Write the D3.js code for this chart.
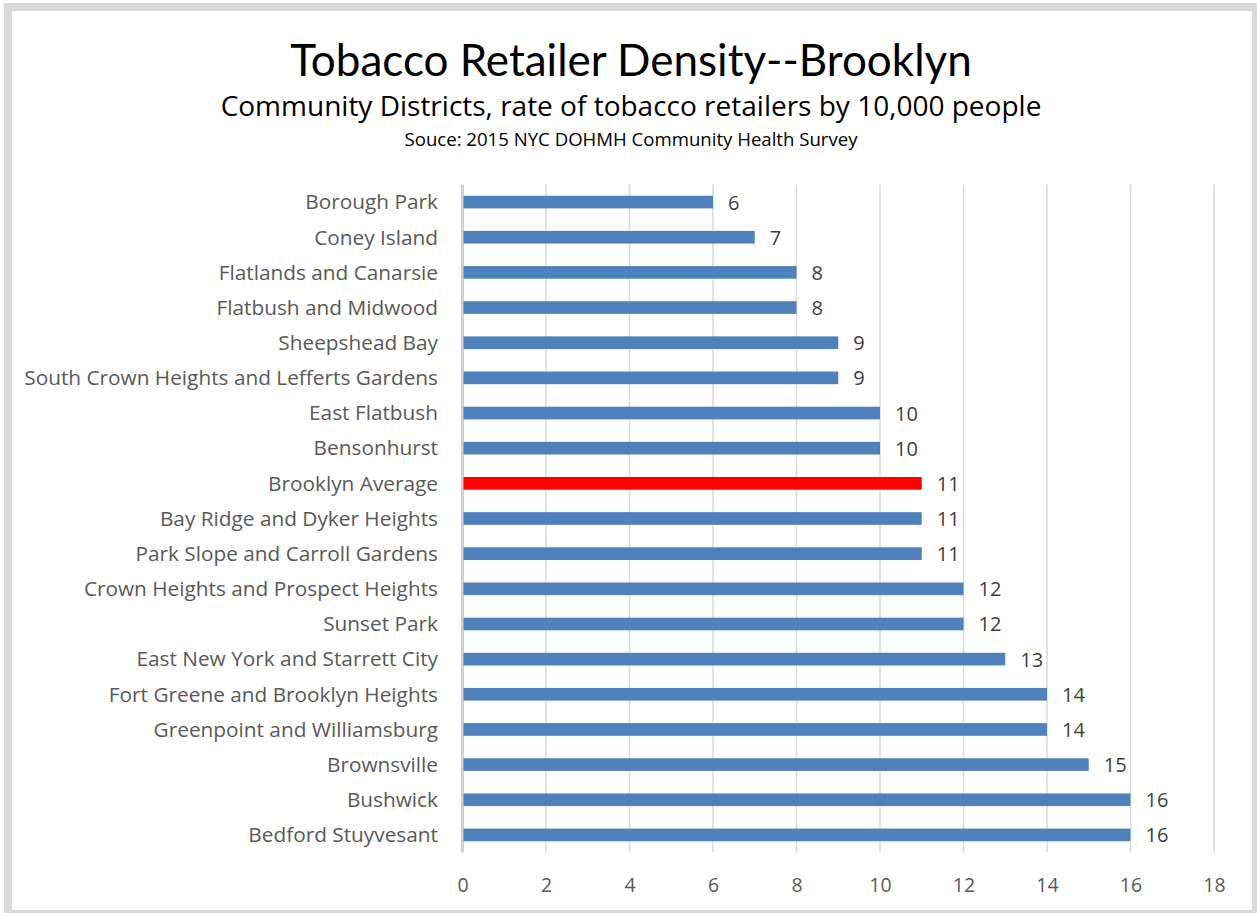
<!DOCTYPE html>
<html>
<head>
<meta charset="utf-8">
<script src="https://cdn.jsdelivr.net/npm/d3@7"></script>
<style>
  html, body { margin: 0; padding: 0; background: #ffffff; }
  svg { display: block; }
</style>
</head>
<body>
<svg id="chart" width="1257" height="913"></svg>
<script>
// Community districts, in display order (top to bottom)
const districts = [
  "Borough Park",
  "Coney Island",
  "Flatlands and Canarsie",
  "Flatbush and Midwood",
  "Sheepshead Bay",
  "South Crown Heights and Lefferts Gardens",
  "East Flatbush",
  "Bensonhurst",
  "Brooklyn Average",
  "Bay Ridge and Dyker Heights",
  "Park Slope and Carroll Gardens",
  "Crown Heights and Prospect Heights",
  "Sunset Park",
  "East New York and Starrett City",
  "Fort Greene and Brooklyn Heights",
  "Greenpoint and Williamsburg",
  "Brownsville",
  "Bushwick",
  "Bedford Stuyvesant"
];

// Tobacco retailers per 10,000 people
const rates = [6, 7, 8, 8, 9, 9, 10, 10, 11, 11, 11, 12, 12, 13, 14, 14, 15, 16, 16];

// Value axis ticks
const xTicks = [0, 2, 4, 6, 8, 10, 12, 14, 16, 18];

const highlight = "Brooklyn Average";

const W = 1257, H = 913;
const svg = d3.select("#chart");
const TITLE_FONT = "Lato, 'Open Sans', sans-serif";
const FONT = "'Open Sans', 'Noto Sans', sans-serif";

// Frame
svg.append("rect").attr("x", 0).attr("y", 0).attr("width", W).attr("height", H).attr("fill", "#ffffff");
svg.append("rect").attr("x", 4).attr("y", 3).attr("width", W - 4).attr("height", H - 3).attr("fill", "#d9d9d9");
svg.append("rect").attr("x", 12).attr("y", 11).attr("width", 1240).attr("height", 899).attr("fill", "#ffffff");

// Titles
const titles = svg.append("g").attr("text-anchor", "middle").attr("fill", "#000");
titles.append("text").attr("x", 631).attr("y", 76).attr("font-family", TITLE_FONT).attr("font-size", 44)
  .text("Tobacco Retailer Density--Brooklyn");
titles.append("text").attr("x", 631).attr("y", 116).attr("font-family", FONT).attr("font-size", 28)
  .text("Community Districts, rate of tobacco retailers by 10,000 people");
titles.append("text").attr("x", 631).attr("y", 146).attr("font-family", FONT).attr("font-size", 18.6)
  .text("Souce: 2015 NYC DOHMH Community Health Survey");

// Scales
const x = d3.scaleLinear().domain([0, 18]).range([462.5, 1214]);
const y = d3.scaleBand().domain(districts).range([184.5, 852.5]).paddingInner(0.64).paddingOuter(0.32);

// Gridlines
svg.append("g").selectAll("line").data(xTicks.slice(1)).join("line")
  .attr("x1", d => x(d)).attr("x2", d => x(d))
  .attr("y1", 184.5).attr("y2", 852.5)
  .attr("stroke", "#d9d9d9").attr("stroke-width", 1.5);

// Category axis line at zero
svg.append("line").attr("x1", x(0)).attr("x2", x(0)).attr("y1", 184.5).attr("y2", 852.5)
  .attr("stroke", "#d0d0d0").attr("stroke-width", 3);

// Bars
svg.append("g").selectAll("rect").data(districts).join("rect")
  .attr("x", x(0) + 1)
  .attr("y", d => y(d))
  .attr("width", (d, i) => x(rates[i]) - x(0) - 1)
  .attr("height", y.bandwidth())
  .attr("fill", d => d === highlight ? "#ff0000" : "#4f81bd");

// Value labels
svg.append("g").attr("font-family", FONT).attr("font-size", 20).attr("fill", "#404040")
  .selectAll("text").data(districts).join("text")
  .attr("x", (d, i) => x(rates[i]) + 15)
  .attr("y", d => y(d) + y.bandwidth() / 2 + 7.5)
  .text((d, i) => rates[i]);

// Category labels
const yAxis = d3.axisLeft(y).tickSize(0).tickPadding(0);
const yg = svg.append("g").attr("transform", `translate(${438},0)`).call(yAxis);
yg.select(".domain").remove();
yg.selectAll("text").attr("font-family", FONT).attr("font-size", 20.8).attr("fill", "#595959")
  .attr("dy", "0.35em");

// Value axis labels
const xAxis = d3.axisBottom(x).tickValues(xTicks).tickSize(0).tickPadding(0).tickFormat(d3.format("d"));
const xg = svg.append("g").attr("transform", `translate(0,${885})`).call(xAxis);
xg.select(".domain").remove();
xg.selectAll("text").attr("font-family", FONT).attr("font-size", 19.5).attr("fill", "#595959")
  .attr("dy", "0.35em");
</script>
</body>
</html>
